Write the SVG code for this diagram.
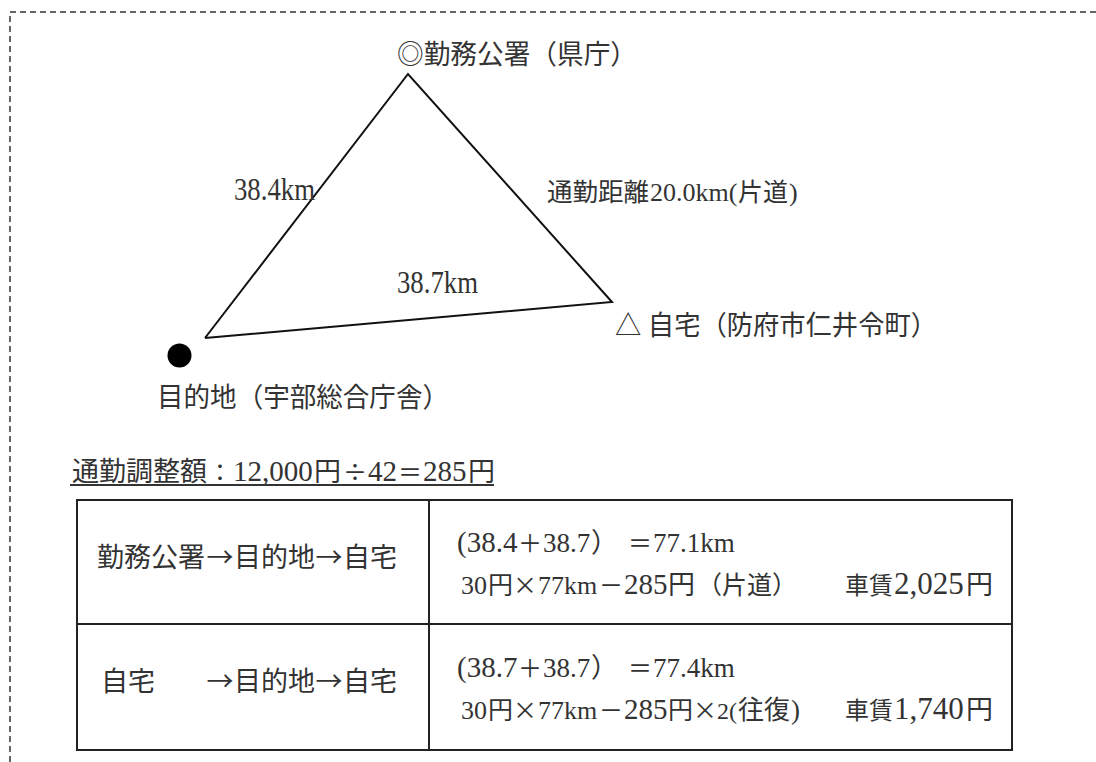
<svg xmlns="http://www.w3.org/2000/svg" width="1096" height="762" viewBox="0 0 1096 762">
<style>
text{font-family:"Liberation Serif","Noto Sans CJK JP",serif;font-size:27px;fill:#333}
.c{font-family:"Noto Sans CJK JP",sans-serif}
.m{font-family:"Noto Sans CJK JP",sans-serif;text-anchor:middle;font-size:24px}
.a{font-family:"Noto Sans CJK JP",sans-serif;text-anchor:middle}
.n{font-size:31px}
.line{stroke:#111;stroke-width:2;fill:none}
.tbl{stroke:#222;stroke-width:2;fill:none}
.dash{stroke:#333;stroke-width:1.5;stroke-dasharray:6 4;fill:none}
</style>
<rect width="1096" height="762" fill="#fff"/>
<path class="dash" d="M10 762 V12 H1096"/>
<g id="connectors">
<polyline class="line" points="205,338 408,74 612,302 205,338"/>
</g>
<g id="node-office"><text x="397" y="64" textLength="240" lengthAdjust="spacingAndGlyphs">◎勤務公署（県庁）</text></g>
<g id="node-dest">
<circle cx="179.5" cy="355.5" r="12" fill="#000"/>
<text x="157" y="407" textLength="292" lengthAdjust="spacingAndGlyphs">目的地（宇部総合庁舎）</text>
</g>
<g id="node-home"><text x="615" y="335" textLength="322" lengthAdjust="spacingAndGlyphs">△ 自宅（防府市仁井令町）</text></g>
<g id="labels">
<text class="n" x="234" y="200" textLength="81" lengthAdjust="spacingAndGlyphs">38.4km</text>
<text x="547" y="201" style="font-size:25.5px">通勤距離</text>
<text x="650" y="201" style="font-size:26px">20.0km(</text>
<text x="738" y="201" style="font-size:25px">片道</text>
<text x="789" y="201" style="font-size:26px">)</text>
<text class="n" x="397" y="293" textLength="81" lengthAdjust="spacingAndGlyphs">38.7km</text>
</g>
<g id="formula">
<text x="72" y="481">通勤調整額</text>
<text class="m" x="220" y="481">：</text>
<text x="233" y="481" style="font-size:29px">12,000</text>
<text x="314" y="481">円</text>
<text class="m" x="355" y="481">÷</text>
<text x="368" y="481" style="font-size:29px">42</text>
<text class="m" x="410" y="481">＝</text>
<text x="423" y="481" style="font-size:29px">285</text>
<text x="468" y="481">円</text>
<line x1="70" y1="485" x2="494" y2="485" stroke="#333" stroke-width="2"/>
</g>
<g id="table">
<rect class="tbl" x="77" y="500" width="935" height="250"/>
<line class="tbl" x1="429" y1="500" x2="429" y2="750"/>
<line class="tbl" x1="77" y1="624" x2="1012" y2="624"/>
</g>
<g id="row1-left">
<text x="97" y="567">勤務公署</text>
<text class="a" x="220" y="567">→</text>
<text x="234" y="567">目的地</text>
<text class="a" x="329" y="567">→</text>
<text x="343" y="567">自宅</text>
</g>
<g id="row2-left">
<text x="101" y="691">自宅</text>
<text class="a" x="220" y="691">→</text>
<text x="234" y="691">目的地</text>
<text class="a" x="329" y="691">→</text>
<text x="343" y="691">自宅</text>
</g>
<g id="row1-right">
<text x="457" y="552" style="font-size:29px">(38.4</text>
<text class="m" x="530" y="552">＋</text>
<text x="543" y="552">38.7</text>
<text class="c" x="591" y="552">）</text>
<text class="m" x="640" y="552">＝</text>
<text x="653" y="552">77.1km</text>
<text x="461" y="594" style="font-size:26px">30</text>
<text x="488" y="594" style="font-size:25px">円</text>
<text class="m" x="525" y="594">×</text>
<text x="538" y="594" style="font-size:26px">77km</text>
<text class="m" x="611" y="594">－</text>
<text x="624" y="594" style="font-size:29px">285</text>
<text x="668" y="594">円</text>
<text x="697" y="594" style="font-size:25px">（片道）</text>
<text x="845" y="594" style="font-size:24px">車賃</text>
<text x="894" y="594" style="font-size:31px">2,025</text>
<text x="966" y="594">円</text>
</g>
<g id="row2-right">
<text x="457" y="677" style="font-size:29px">(38.7</text>
<text class="m" x="530" y="677">＋</text>
<text x="543" y="677">38.7</text>
<text class="c" x="591" y="677">）</text>
<text class="m" x="640" y="677">＝</text>
<text x="653" y="677">77.4km</text>
<text x="461" y="719" style="font-size:26px">30</text>
<text x="488" y="719" style="font-size:25px">円</text>
<text class="m" x="525" y="719">×</text>
<text x="538" y="719" style="font-size:26px">77km</text>
<text class="m" x="611" y="719">－</text>
<text x="624" y="719" style="font-size:29px">285</text>
<text x="668" y="719" style="font-size:25px">円</text>
<text class="m" x="705" y="719">×</text>
<text x="717" y="719" style="font-size:24px">2(</text>
<text x="738" y="719" style="font-size:26px">往復</text>
<text x="791" y="719">)</text>
<text x="845" y="719" style="font-size:24px">車賃</text>
<text x="894" y="719" style="font-size:31px">1,740</text>
<text x="966" y="719">円</text>
</g>
</svg>
